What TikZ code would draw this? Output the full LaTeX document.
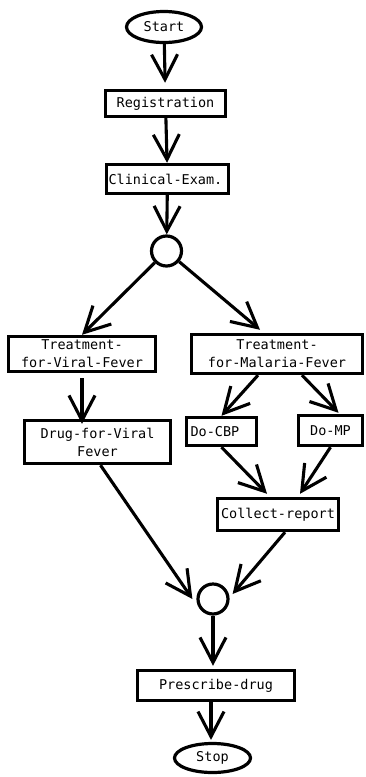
\documentclass[tikz,border=0pt]{standalone}
\usepackage{fontspec}
\newfontfamily\flowfont{DejaVu Sans Mono}
\usetikzlibrary{arrows.meta,shapes.geometric}
\begin{document}
\begin{tikzpicture}[x=1pt,y=-1pt,
  every node/.style={font=\flowfont\fontsize{13.5}{18}\selectfont},
  stepbox/.style={draw,line width=3.4pt,rectangle,inner sep=0pt,align=center},
  terminal/.style={draw,line width=3.2pt,ellipse,inner sep=0pt},
  junction/.style={draw,line width=3.2pt,circle,inner sep=0pt,minimum size=30pt},
  flow/.style={line width=3.1pt,-{Straight Barb[length=25pt,width=26pt]}}
]
\useasboundingbox (0,0) rectangle (365,777);

% nodes
\node[terminal,minimum width=75pt,minimum height=31pt] (start) at (164,27) {Start};
\node[stepbox,minimum width=120pt,minimum height=26pt] (reg) at (165.5,103.5) {Registration};
\node[stepbox,minimum width=122pt,minimum height=29pt,text width=118pt,inner xsep=2pt,align=left] (clin) at (167.5,179) {Clinical-Exam.};
\node[junction] (c1) at (166.5,251) {};
\node[stepbox,minimum width=147pt,minimum height=35pt] (tvf) at (82,354) {Treatment-\\for-Viral-Fever};
\node[stepbox,minimum width=171pt,minimum height=39pt] (tmf) at (277,354) {Treatment-\\for-Malaria-Fever};
\node[stepbox,minimum width=146pt,minimum height=43pt] (drug) at (97.5,442) {Drug-for-Viral\\Fever};
\node[stepbox,minimum width=70pt,minimum height=28pt,text width=62pt,inner xsep=4pt,align=left] (cbp) at (221.5,431.5) {Do-CBP};
\node[stepbox,minimum width=64pt,minimum height=30pt] (mp) at (330.5,430.5) {Do-MP};
\node[stepbox,minimum width=121pt,minimum height=32pt] (coll) at (278,514.5) {Collect-report};
\node[junction] (c2) at (213,599) {};
\node[stepbox,minimum width=157pt,minimum height=30pt] (pres) at (216,685.5) {Prescribe-drug};
\node[terminal,minimum width=76pt,minimum height=29pt] (stop) at (212.5,758) {Stop};

% connectors
\draw[flow,shorten >=6pt] (start) -- (reg);
\draw[flow] (reg) -- (clin);
\draw[flow] (clin) -- (c1);
\draw[flow] (c1) -- (tvf.north);
\draw[flow] (c1) -- ([xshift=-17pt,yshift=3pt]tmf.north);
\draw[flow] ([yshift=-5pt]tvf.south) -- ([yshift=-5pt]tvf.south |- drug.north);
\draw[flow] ([xshift=-19pt]tmf.south) -- (cbp.north);
\draw[flow] ([xshift=25pt]tmf.south) -- ([xshift=8pt,yshift=1pt]mp.north);
\draw[flow] (cbp.south) -- ([xshift=-11pt,yshift=3pt]coll.north);
\draw[flow] (mp.south) -- ([xshift=22pt,yshift=3pt]coll.north);
\draw[flow] ([xshift=3pt]drug.south) -- ([xshift=-4pt]c2.west);
\draw[flow] ([xshift=7pt]coll.south) -- ([xshift=3pt,yshift=5pt]c2.east);
\draw[flow] (c2) -- ([yshift=3pt]c2 |- pres.north);
\draw[flow] ([xshift=-5pt]pres.south) -- ([xshift=-5pt,yshift=2pt]pres.south |- stop.north);
\end{tikzpicture}
\end{document}
